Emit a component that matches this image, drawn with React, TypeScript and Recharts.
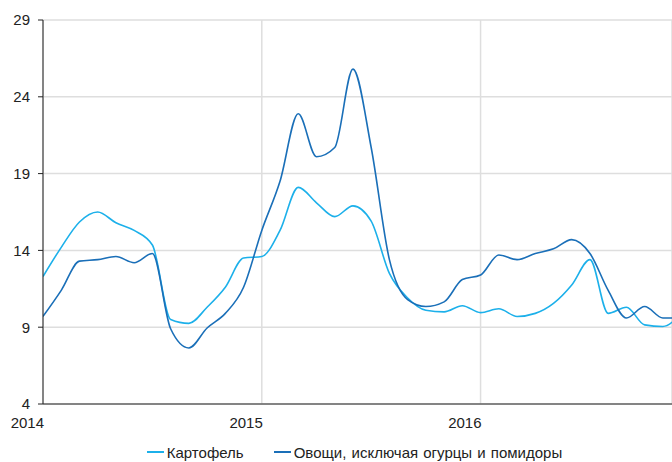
import React from "react";
import { CartesianGrid, Legend, Line, LineChart, XAxis, YAxis } from "recharts";

// monthly index, 0 = Jan 2014
const potato = [
  12.3, 14.2, 15.85, 16.5, 15.8, 15.3, 14.35, 9.5, 9.25, 10.3, 11.6, 13.5,
  13.6, 15.3, 18.1, 17.1, 16.2, 16.9, 15.9, 12.5, 10.9, 10.1, 10.0, 10.4,
  9.95, 10.2, 9.7, 9.9, 10.55, 11.75, 13.4, 9.9, 10.3, 9.15, 9.05, 9.9,
];
const vegetables = [
  9.7, 11.4, 13.3, 13.4, 13.6, 13.2, 13.8, 8.9, 7.65, 8.95, 9.9, 11.6,
  15.3, 18.5, 22.9, 20.1, 20.7, 25.8, 20.7, 13.4, 10.8, 10.35, 10.65, 12.1,
  12.4, 13.7, 13.4, 13.8, 14.1, 14.7, 13.8, 11.4, 9.6, 10.35, 9.6, 9.6,
];
const yearTicks = [0, 12, 24];
const yearLabels = ["2014", "2015", "2016"];
const yTicks = [4, 9, 14, 19, 24, 29];

const seriesNames = ["Картофель", "Овощи, исключая огурцы и помидоры"];
const colors = ["#1cb0ea", "#1a6fb8"];

const data = potato.map((p, i) => ({ i, potato: p, veg: vegetables[i] }));

const font = "'Liberation Sans', Arial, sans-serif";

function YearTick(props: any) {
  const { x, y, payload } = props;
  const label = yearLabels[yearTicks.indexOf(payload.value)];
  return (
    <text x={x + 1} y={y + 16} textAnchor="end" fontSize={15} fill="#222" fontFamily={font}>
      {label}
    </text>
  );
}

function ChartLegend() {
  return (
    <div
      style={{
        height: 28,
        boxSizing: "border-box",
        paddingTop: 8,
        paddingLeft: 37,
        display: "flex",
        justifyContent: "center",
        alignItems: "center",
        fontFamily: font,
        fontSize: 15,
        color: "#222",
      }}
    >
      {seriesNames.map((name, k) => (
        <div key={name} style={{ display: "flex", alignItems: "center", marginLeft: k ? 30 : 0 }}>
          <span style={{ width: 17, height: 2, background: colors[k], marginRight: 3 }} />
          <span style={{ wordSpacing: 1 }}>{name}</span>
        </div>
      ))}
    </div>
  );
}

export default function App() {
  return (
    <div style={{ position: "absolute", left: 0, top: 0 }}>
      <LineChart width={672} height={462} data={data} margin={{ top: 20, right: 0, bottom: 0, left: 0 }}>
        <CartesianGrid stroke="#dedede" strokeWidth={1.5} />
        <XAxis
          type="number"
          dataKey="i"
          domain={[0, 34.5]}
          allowDataOverflow
          ticks={yearTicks}
          tick={<YearTick />}
          tickLine={false}
          height={30}
          axisLine={{ stroke: "#222" }}
        />
        <YAxis
          domain={[4, 29]}
          ticks={yTicks}
          width={43}
          tickSize={5}
          tickMargin={8}
          axisLine={{ stroke: "#222" }}
          tickLine={{ stroke: "#222" }}
          tick={{ fontSize: 15, fill: "#222", fontFamily: font }}
        />
        <Legend verticalAlign="bottom" content={<ChartLegend />} />
        <Line
          type="monotone"
          dataKey="potato"
          name={seriesNames[0]}
          stroke={colors[0]}
          strokeWidth={1.6}
          dot={false}
          isAnimationActive={false}
        />
        <Line
          type="monotone"
          dataKey="veg"
          name={seriesNames[1]}
          stroke={colors[1]}
          strokeWidth={1.6}
          dot={false}
          isAnimationActive={false}
        />
      </LineChart>
    </div>
  );
}
